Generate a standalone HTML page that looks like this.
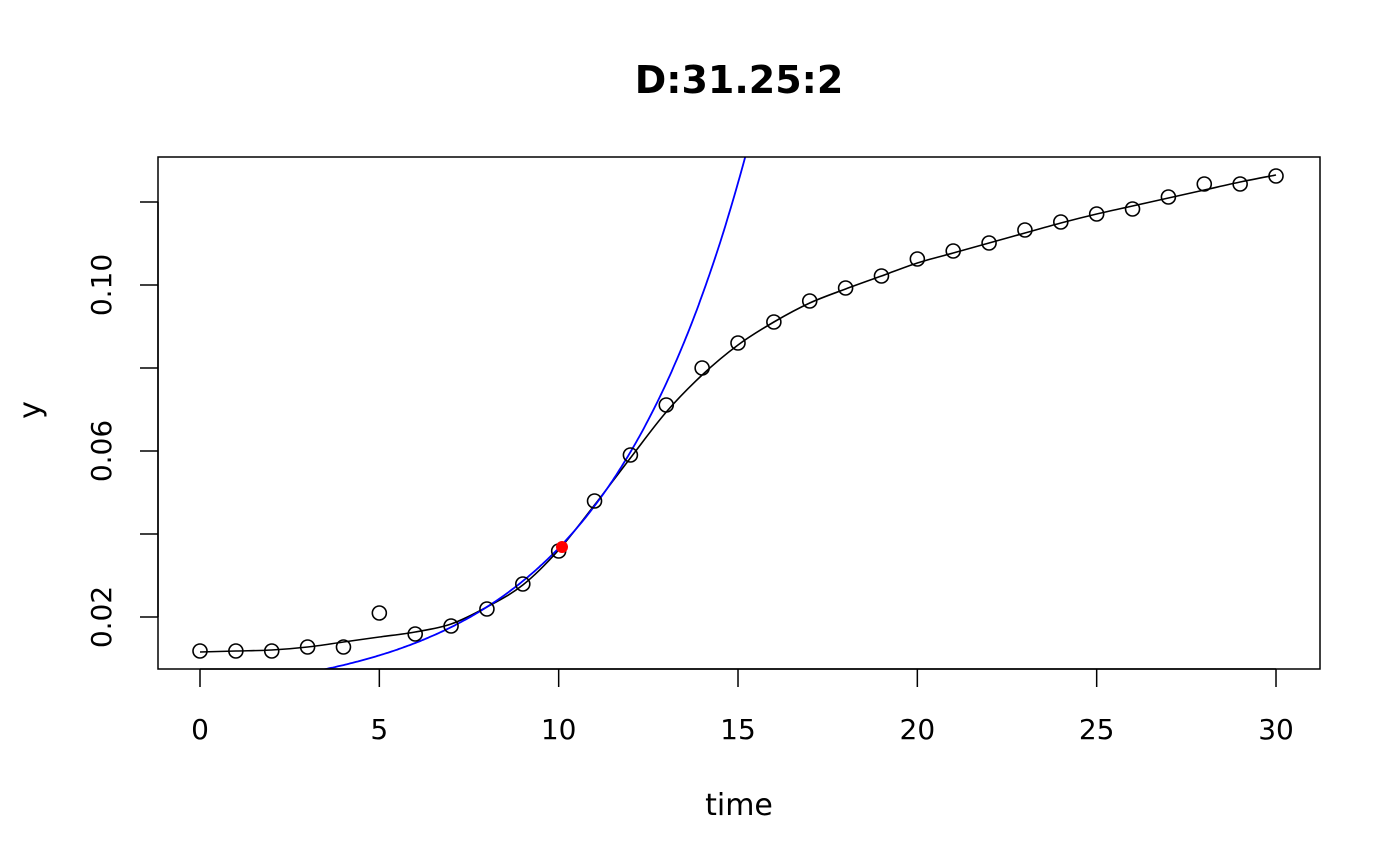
<!DOCTYPE html>
<html><head><meta charset="utf-8"><style>body{margin:0;background:#fff}svg{display:block}</style></head>
<body>
<svg id="s" width="1400" height="866" xmlns="http://www.w3.org/2000/svg" font-family="'DejaVu Sans',sans-serif">
<rect width="1400" height="866" fill="#fff"/>
<text x="739" y="93" text-anchor="middle" font-size="38" font-weight="bold">D:31.25:2</text>
<defs><clipPath id="c"><rect x="158" y="157" width="1162" height="512"/></clipPath></defs>
<g id="plot" clip-path="url(#c)"></g>
<rect x="158" y="157" width="1162" height="512" fill="none" stroke="#000" stroke-width="1.5"/>
<g id="ax" stroke="#000" stroke-width="1.5"></g>
<g id="lab" font-size="28"></g>
<text x="739" y="815" text-anchor="middle" font-size="30">time</text>
<text transform="translate(40,410) rotate(-90)" text-anchor="middle" font-size="30">y</text>
</svg>
<script>
var NS="http://www.w3.org/2000/svg";
function X(t){return 200+t*35.867;}
function Y(v){return 617-(v-0.02)*4150;}
function el(p,n,a,txt){var e=document.createElementNS(NS,n);for(var k in a)e.setAttribute(k,a[k]);if(txt)e.textContent=txt;p.appendChild(e);return e;}
var ax=document.getElementById('ax'),lab=document.getElementById('lab'),plot=document.getElementById('plot');
el(ax,'line',{x1:200,x2:1276,y1:669,y2:669});
for(var t=0;t<=30;t+=5){el(ax,'line',{x1:X(t),x2:X(t),y1:669,y2:687});el(lab,'text',{x:X(t),y:739,'text-anchor':'middle'},String(t));}
el(ax,'line',{x1:158,x2:158,y1:Y(0.02),y2:Y(0.12)});
for(var i=0;i<6;i++){var v=0.02+i*0.02;el(ax,'line',{x1:140,x2:158,y1:Y(v),y2:Y(v)});
 if(i%2==0){el(lab,'text',{transform:'translate(111,'+Y(v)+') rotate(-90)','text-anchor':'middle'},v.toFixed(2));}}
var py=[651,651,651,647,647,613,634,626,609,584,551,501,455,405,368,343,322,301,288,276,259,251,243,230,222,214,209,197,184,184,176];
var cy=[652,651,650,647,642,637,632,624,607,585,550,505,458,412,375,345,322,303,289,276,263,253,243,233,223,214,206,198,190,182,175];
var d='M'+X(0)+','+cy[0];
for(var i=0;i<30;i++){var p0=[X(Math.max(i-1,0)),cy[Math.max(i-1,0)]],p1=[X(i),cy[i]],p2=[X(i+1),cy[i+1]],p3=[X(Math.min(i+2,30)),cy[Math.min(i+2,30)]];
 d+=' C'+(p1[0]+(p2[0]-p0[0])/6)+','+(p1[1]+(p2[1]-p0[1])/6)+' '+(p2[0]-(p3[0]-p1[0])/6)+','+(p2[1]-(p3[1]-p1[1])/6)+' '+p2[0]+','+p2[1];}
el(plot,'path',{d:d,fill:'none',stroke:'#000','stroke-width':1.6});
var b='';for(var t=2;t<=16;t+=0.05){var v=0.0366*Math.exp(0.245*(t-10));b+=(b?'L':'M')+X(t).toFixed(1)+','+Y(v).toFixed(1);}
el(plot,'path',{d:b,fill:'none',stroke:'#0000ff','stroke-width':1.8});
for(var i=0;i<=30;i++)el(plot,'circle',{cx:X(i),cy:py[i],r:7,fill:'none',stroke:'#000','stroke-width':1.6});
el(plot,'circle',{cx:562,cy:547,r:6,fill:'#ff0000'});
</script>
</body></html>
